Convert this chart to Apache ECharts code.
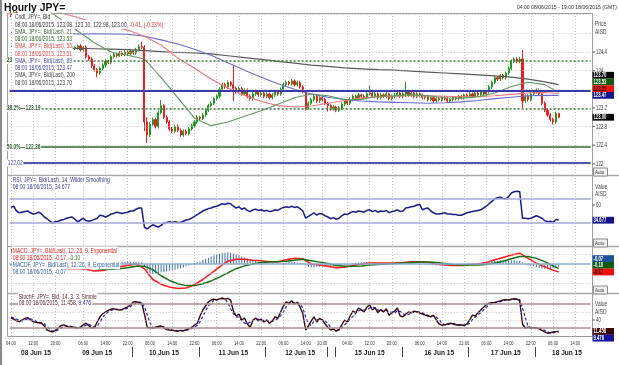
<!DOCTYPE html>
<html><head><meta charset="utf-8">
<script src="https://cdn.jsdelivr.net/npm/echarts@6.0.0/dist/echarts.min.js"></script>
<style>html,body{margin:0;padding:0;background:#fff;overflow:hidden}#c{width:619px;height:365px}</style>
</head><body><div id="c"></div>
<script>
// ---------- time axis ----------
const sessionDays = [['08/06',4,23],['09/06',0,23],['10/06',0,23],['11/06',0,23],['12/06',0,21],['14/06',21,23],['15/06',0,23],['16/06',0,23],['17/06',0,23],['18/06',0,19]];
const tickTimes = ['08/06 04:00','08/06 12:00','08/06 20:00','09/06 06:00','09/06 14:00','09/06 22:00','10/06 06:00','10/06 14:00','10/06 22:00','11/06 06:00','11/06 14:00','11/06 22:00','12/06 06:00','12/06 14:00','12/06 20:00','15/06 04:00','15/06 12:00','15/06 20:00','16/06 06:00','16/06 14:00','16/06 22:00','17/06 06:00','17/06 14:00','17/06 22:00','18/06 06:00','18/06 14:00'];
const dayLabelTimes = ['08/06 13:00','09/06 11:00','10/06 11:00','11/06 12:00','12/06 12:00','15/06 12:00','16/06 13:00','17/06 13:00','18/06 11:00'];
const dayLabels = ['08 Jun 15','09 Jun 15','10 Jun 15','11 Jun 15','12 Jun 15','15 Jun 15','16 Jun 15','17 Jun 15','18 Jun 15'];
const daySeparators = ['10/06 00:00','11/06 00:00','12/06 00:00','14/06 21:00','15/06 00:00','16/06 00:00','17/06 00:00','18/06 00:00'];

// ---------- price candles (hourly, 08/06 04:00 .. 18/06 08:00) ----------
const opens = [
125.22,125.20,125.25,125.15,125.18,125.10,124.95,124.80,124.85,124.70,
124.75,124.65,124.60,124.68,124.55,124.50,124.45,124.52,124.55,124.50,
124.48,124.50,124.52,124.48,124.50,124.53,124.45,124.50,124.30,124.25,
124.10,124.02,123.95,124.05,124.12,124.20,124.18,124.30,124.35,124.32,
124.38,124.35,124.40,124.36,124.42,124.38,124.45,124.52,124.50,122.90,
122.62,122.85,122.95,122.80,123.10,123.25,123.00,122.90,122.75,122.70,
122.80,122.72,122.62,122.70,122.65,122.75,122.82,122.90,123.00,122.98,
123.05,123.15,123.25,123.30,123.40,123.45,123.60,123.70,123.65,123.75,
123.70,123.62,123.55,123.62,123.50,123.58,123.45,123.40,123.50,123.55,
123.48,123.52,123.45,123.50,123.42,123.48,123.55,123.50,123.60,123.70,
123.75,123.72,123.78,123.70,123.75,123.65,123.55,123.20,123.30,123.38,
123.45,123.35,123.42,123.38,123.30,123.25,123.18,123.22,123.15,123.20,
123.28,123.35,123.30,123.38,123.45,123.40,123.48,123.45,123.42,123.50,
123.52,123.45,123.50,123.42,123.48,123.45,123.50,123.40,123.45,123.48,
123.52,123.45,123.50,123.55,123.48,123.52,123.45,123.50,123.48,123.42,
123.45,123.38,123.42,123.35,123.40,123.38,123.42,123.40,123.35,123.38,
123.42,123.40,123.45,123.42,123.48,123.45,123.50,123.45,123.52,123.48,
123.55,123.50,123.55,123.65,123.75,123.85,123.82,123.90,123.85,123.95,
124.05,124.20,124.25,124.20,124.25,123.35,123.45,123.38,123.50,123.55,
123.58,123.50,123.30,123.15,123.05,122.95,122.90,123.08];
const closes = [
125.20,125.25,125.15,125.18,125.10,124.95,124.80,124.85,124.70,124.75,
124.65,124.60,124.68,124.55,124.50,124.45,124.52,124.55,124.50,124.48,
124.50,124.52,124.48,124.50,124.53,124.45,124.50,124.30,124.25,124.10,
124.02,123.95,124.05,124.12,124.20,124.18,124.30,124.35,124.32,124.38,
124.35,124.40,124.36,124.42,124.38,124.45,124.52,124.50,122.90,122.62,
122.85,122.95,122.80,123.10,123.25,123.00,122.90,122.75,122.70,122.80,
122.72,122.62,122.70,122.65,122.75,122.82,122.90,123.00,122.98,123.05,
123.15,123.25,123.30,123.40,123.45,123.60,123.70,123.65,123.75,123.70,
123.62,123.55,123.62,123.50,123.58,123.45,123.40,123.50,123.55,123.48,
123.52,123.45,123.50,123.42,123.48,123.55,123.50,123.60,123.70,123.75,
123.72,123.78,123.70,123.75,123.65,123.55,123.20,123.30,123.38,123.45,
123.35,123.42,123.38,123.30,123.25,123.18,123.22,123.15,123.20,123.28,
123.35,123.30,123.38,123.45,123.40,123.48,123.45,123.42,123.50,123.52,
123.45,123.50,123.42,123.48,123.45,123.50,123.40,123.45,123.48,123.52,
123.45,123.50,123.55,123.48,123.52,123.45,123.50,123.48,123.42,123.45,
123.38,123.42,123.35,123.40,123.38,123.42,123.40,123.35,123.38,123.42,
123.40,123.45,123.42,123.48,123.45,123.50,123.45,123.52,123.48,123.55,
123.50,123.55,123.65,123.75,123.85,123.82,123.90,123.85,123.95,124.05,
124.20,124.25,124.20,124.25,123.35,123.45,123.38,123.50,123.55,123.58,
123.50,123.30,123.15,123.05,122.95,122.90,123.08,123.00];
const highs = [
125.28,125.30,125.28,125.22,125.22,125.14,124.99,124.90,124.90,124.79,
124.80,124.70,124.72,124.71,124.59,124.54,124.55,124.58,124.59,124.54,
124.54,124.55,124.56,124.53,124.56,124.57,124.53,124.54,124.34,124.29,
124.14,124.06,124.09,124.16,124.24,124.23,124.34,124.39,124.38,124.42,
124.42,124.44,124.43,124.46,124.45,124.49,124.56,124.62,124.55,123.00,
122.90,122.99,122.99,123.14,123.37,123.28,123.04,122.94,122.79,122.84,
122.84,122.76,122.74,122.74,122.79,122.86,122.94,123.04,123.03,123.09,
123.19,123.29,123.34,123.44,123.49,123.65,123.74,123.74,123.79,123.78,
124.12,123.66,123.66,123.65,123.62,123.62,123.49,123.54,123.59,123.58,
123.56,123.55,123.54,123.53,123.52,123.59,123.58,123.64,123.74,123.79,
123.78,123.82,123.81,123.79,123.78,123.69,123.58,123.34,123.42,123.49,
123.48,123.45,123.46,123.42,123.33,123.28,123.26,123.25,123.24,123.32,
123.39,123.38,123.42,123.49,123.48,123.52,123.51,123.49,123.54,123.68,
123.55,123.54,123.53,123.52,123.51,123.54,123.53,123.49,123.52,123.56,
123.55,123.54,123.76,123.58,123.56,123.55,123.54,123.53,123.51,123.48,
123.48,123.45,123.45,123.43,123.43,123.45,123.46,123.44,123.41,123.45,
123.45,123.48,123.48,123.51,123.51,123.54,123.53,123.55,123.55,123.58,
123.58,123.58,123.69,123.79,123.89,123.88,123.93,123.93,123.98,124.09,
124.24,124.29,124.29,124.29,124.44,123.49,123.49,123.54,123.58,123.62,
123.62,123.54,123.34,123.19,123.09,122.99,123.12,123.10];
const lows = [
125.15,125.16,125.11,125.11,125.06,124.90,124.76,124.76,124.66,124.66,
124.61,124.56,124.56,124.51,124.46,124.41,124.41,124.48,124.46,124.44,
124.44,124.46,124.44,124.44,124.46,124.41,124.41,124.26,124.21,124.06,
123.98,123.86,123.91,124.01,124.08,124.14,124.14,124.26,124.28,124.29,
124.31,124.31,124.32,124.32,124.34,124.34,124.41,124.46,122.70,122.45,
122.58,122.81,122.76,122.76,123.06,122.96,122.86,122.71,122.66,122.66,
122.68,122.58,122.58,122.61,122.61,122.71,122.78,122.86,122.94,122.94,
123.01,123.11,123.21,123.26,123.36,123.41,123.56,123.61,123.61,123.66,
123.35,123.51,123.51,123.46,123.46,123.41,123.36,123.36,123.46,123.44,
123.44,123.41,123.41,123.38,123.38,123.44,123.46,123.46,123.56,123.66,
123.68,123.68,123.66,123.66,123.61,123.51,123.14,123.16,123.26,123.34,
123.31,123.31,123.34,123.26,123.12,123.14,123.14,123.11,123.11,123.16,
123.24,123.26,123.26,123.34,123.36,123.36,123.41,123.38,123.38,123.46,
123.41,123.41,123.38,123.38,123.41,123.41,123.36,123.36,123.41,123.44,
123.41,123.41,123.44,123.44,123.44,123.41,123.41,123.44,123.38,123.38,
123.34,123.34,123.31,123.31,123.34,123.34,123.36,123.31,123.31,123.34,
123.36,123.36,123.38,123.38,123.41,123.41,123.41,123.41,123.44,123.44,
123.46,123.46,123.51,123.61,123.71,123.78,123.78,123.81,123.81,123.91,
124.01,124.16,124.16,124.16,123.20,123.31,123.34,123.34,123.46,123.51,
123.46,123.26,123.11,123.01,122.91,122.84,122.86,122.98];

// ---------- moving averages (sampled every 6 bars) ----------
const smaAt = [0,6,12,18,24,30,36,42,48,54,60,66,72,78,84,90,96,102,108,114,120,126,132,138,144,150,156,162,168,174,180,186,192,197];
const sma21 = [125.62,125.52,125.35,125.10,124.85,124.60,124.40,124.33,124.25,123.85,123.42,122.98,122.82,122.90,123.02,123.14,123.28,123.42,123.50,123.46,123.38,123.38,123.45,123.46,123.48,123.46,123.42,123.41,123.44,123.52,123.66,123.75,123.70,123.53];
const sma55 = [125.45,125.40,125.33,125.24,125.14,125.03,124.95,124.87,124.74,124.55,124.27,124.05,123.82,123.63,123.47,123.34,123.25,123.22,123.24,123.30,123.36,123.41,123.44,123.45,123.46,123.46,123.45,123.44,123.44,123.46,123.49,123.52,123.53,123.51];
const sma89 = [124.82,124.81,124.80,124.80,124.79,124.79,124.79,124.78,124.74,124.66,124.57,124.46,124.33,124.17,124.01,123.86,123.72,123.60,123.50,123.43,123.38,123.35,123.33,123.32,123.31,123.30,123.31,123.33,123.36,123.40,123.43,123.46,123.47,123.47];
const sma200 = [124.52,124.51,124.50,124.49,124.48,124.47,124.46,124.45,124.43,124.41,124.39,124.38,124.36,124.32,124.28,124.24,124.20,124.16,124.12,124.09,124.06,124.04,124.02,124.01,123.99,123.97,123.95,123.93,123.91,123.89,123.86,123.82,123.76,123.70];

// ---------- RSI(14) ----------
const rsi = [56,58,50,47,48,49,50,47,45,46,48,45,40,37,33,30,32,33,35,36,
38,39,40,36,32,35,38,34,33,34,36,38,43,42,40,42,45,46,48,47,46,47,48,50,
50,53,55,55,
23,20,24,27,25,23,26,30,31,32,31,32,31,31,33,35,36,38,41,44,
47,50,52,54,55,57,58,60,62,61,63,62,58,55,57,53,55,51,49,52,53,51,52,50,
51,49,50,52,51,54,56,57,56,58,56,57,54,50,38,41,44,47,43,46,45,42,
40,37,39,
36,38,42,45,44,47,49,48,50,49,48,51,52,49,51,48,50,49,51,47,49,50,52,49,
50,55,56,57,58,60,61,52,54,55,50,47,45,45,46,47,45,45,44,44,43,43,45,47,
48,49,50,51,52,55,58,62,66,70,72,73,71,70,74,80,82,83,82,38,38,37,38,40,
42,40,38,34,32,33,31,36,34.677];

// ---------- MACD(12,26,9) (lines sampled every 3 bars) ----------
const macdAt = [0,3,6,9,12,15,18,21,24,27,30,33,36,39,42,45,48,51,54,57,60,63,66,69,72,75,78,81,84,87,90,93,96,99,102,105,108,111,114,117,120,123,126,129,132,135,138,141,144,147,150,153,156,159,162,165,168,171,174,177,180,183,186,189,192,195,197];
const macdLine = [0.26,0.22,0.17,0.10,0.03,-0.04,-0.08,-0.10,-0.10,-0.11,-0.15,-0.14,-0.10,-0.06,-0.03,0.00,-0.10,-0.33,-0.43,-0.49,-0.52,-0.51,-0.44,-0.33,-0.20,-0.06,0.06,0.10,0.10,0.08,0.07,0.05,0.05,0.09,0.12,0.11,0.00,-0.02,-0.05,-0.08,-0.07,-0.03,0.00,0.02,0.02,0.02,0.02,0.03,0.05,0.05,0.03,0.00,-0.02,-0.03,-0.03,-0.01,0.00,0.03,0.09,0.14,0.19,0.23,0.12,0.02,-0.06,-0.13,-0.17];
const macdSignal = [0.30,0.28,0.25,0.21,0.16,0.10,0.05,0.01,-0.03,-0.06,-0.09,-0.11,-0.11,-0.10,-0.08,-0.05,-0.05,-0.12,-0.25,-0.35,-0.42,-0.46,-0.46,-0.42,-0.36,-0.28,-0.19,-0.10,-0.04,0.00,0.03,0.04,0.05,0.06,0.08,0.10,0.07,0.04,0.01,-0.03,-0.05,-0.05,-0.04,-0.02,-0.01,0.00,0.01,0.02,0.03,0.04,0.04,0.03,0.01,-0.01,-0.02,-0.02,-0.02,-0.01,0.02,0.06,0.11,0.16,0.16,0.12,0.05,-0.04,-0.10];
const macdHist = [-0.04,-0.05,-0.05,-0.06,-0.07,-0.07,-0.08,-0.09,-0.10,-0.11,-0.12,-0.12,-0.13,-0.13,-0.14,-0.14,-0.14,-0.13,-0.13,-0.12,
-0.12,-0.11,-0.10,-0.09,-0.07,-0.06,-0.06,-0.05,-0.05,-0.06,-0.06,-0.05,-0.04,-0.03,-0.02,-0.01,0.01,0.02,0.03,0.04,0.04,0.05,0.05,0.05,0.05,0.05,0.05,0.04,
-0.05,-0.14,-0.19,-0.21,-0.20,-0.19,-0.18,-0.17,-0.16,-0.14,-0.13,-0.12,-0.10,-0.09,-0.07,-0.05,-0.03,-0.01,0.02,0.04,
0.05,0.09,0.11,0.13,0.16,0.18,0.20,0.22,0.23,0.24,0.25,0.24,0.22,0.20,0.18,0.16,0.14,0.12,0.10,0.08,0.07,0.05,0.04,0.03,
0.02,0.01,0.01,0.00,0.00,0.01,0.02,0.03,0.04,0.04,0.04,0.03,0.02,0.01,-0.03,-0.06,-0.07,-0.07,-0.06,-0.06,-0.06,-0.06,
-0.06,-0.06,-0.05,
-0.05,-0.04,-0.03,-0.02,-0.01,0.00,0.02,0.03,0.03,0.04,0.04,0.04,0.04,0.03,0.03,0.03,0.02,0.02,0.02,0.01,0.01,0.01,0.01,0.01,
0.01,0.02,0.02,0.02,0.02,0.01,0.01,0.00,-0.01,-0.01,-0.02,-0.02,-0.03,-0.03,-0.03,-0.03,-0.03,-0.02,-0.02,-0.02,-0.01,-0.01,-0.01,0.00,
0.01,0.01,0.02,0.02,0.02,0.03,0.04,0.05,0.06,0.07,0.07,0.08,0.08,0.08,0.08,0.08,0.08,0.07,0.07,0.03,-0.01,-0.03,-0.04,-0.05,
-0.07,-0.08,-0.09,-0.10,-0.10,-0.10,-0.09,-0.08,-0.07];

// ---------- Stochastic (14,3,3) ----------
const stochK = [45,42,38,36,40,44,46,40,36,34,33,32,25,15,12,10,14,20,26,28,
24,22,23,21,20,22,28,32,26,20,21,35,48,56,60,64,67,68,66,65,66,70,73,78,85,86,83,82,
55,22,21,20,22,24,25,20,16,15,14,13,12,14,13,16,18,22,27,32,
50,65,75,85,90,92,90,93,95,92,94,90,62,50,55,40,45,30,22,38,45,38,42,35,
40,32,38,48,45,60,75,85,82,88,80,84,72,55,15,25,38,48,35,44,40,30,
22,15,18,
12,16,28,40,35,50,62,58,70,66,60,72,78,65,70,58,66,60,68,52,58,62,70,50,
48,55,60,58,62,60,58,55,52,50,48,52,40,30,27,28,30,32,30,28,27,28,26,30,
40,52,50,58,65,72,78,82,83,84,86,88,90,91,90,92,93,92,88,30,20,22,20,21,
20,18,14,10,7,8,10,11,11.458];
const stochD = [48,45,42,39,38,40,43,43,41,37,34,33,30,24,17,12,12,15,20,25,
26,25,23,22,21,21,23,27,29,26,22,25,35,46,55,60,64,66,67,66,66,67,70,74,79,83,85,84,
73,53,33,21,21,22,24,23,20,17,15,14,13,13,13,14,16,19,22,27,
36,49,63,75,83,89,91,92,93,93,82,68,56,48,47,38,32,30,35,40,42,42,38,39,
39,36,37,39,44,51,60,73,81,85,83,84,79,70,47,32,26,37,40,42,40,38,
31,22,18,
15,15,19,28,34,42,49,57,63,65,65,66,70,72,71,64,65,61,65,60,59,57,63,61,
56,51,54,58,60,61,60,58,55,52,50,50,47,41,32,28,28,30,31,30,28,28,27,28,
32,41,47,53,58,65,72,77,81,83,84,86,88,90,90,91,92,92,91,70,46,24,21,21,
20,20,17,14,10,8,8,10,9.476];

// ---------- levels & ticks ----------
const fibLevels = [124.22, 123.19, 122.36];
const fibNames = ['23.6%', '38.2%', '50.0%'];
const blueLevels = [123.56, 122.02];
const priceTicks = [122, 122.4, 122.8, 123.2, 123.6, 124, 124.4];
const priceGridLines = [122, 122.4, 122.8, 123.2, 123.6, 124, 124.4, 124.8, 125.2];
const rsiBands = [70, 30];
const rsiTicks = [60];
const macdGridLines = [0.2, -0.2, -0.4];
const stochBands = [80, 20];
const stochGridLines = [60, 40];
const stochTicks = [40];

// ---------- build ----------
const categories = [];
sessionDays.forEach(([d, a, b]) => { for (let h = a; h <= b; h++) categories.push(d + ' ' + String(h).padStart(2, '0') + ':00'); });
const FONT = '"Liberation Sans", Arial, sans-serif';
const tickSet = new Set(tickTimes);
const L = 9.6, R = 28.4;
const grids = [{top: 13, height: 162}, {top: 175, height: 71}, {top: 246, height: 47}, {top: 293, height: 43}]
  .map(g => Object.assign({left: L, right: R, show: false}, g));
const yRanges = [[121.761, 125.237], [-8.33, 110], [-0.617, 0.383], [0, 107.5]];

const xAxis = grids.map((g, i) => ({
  type: 'category', gridIndex: i, data: categories, boundaryGap: true,
  axisLine: {show: false}, axisTick: {show: false}, axisLabel: {show: false},
  splitLine: {show: true, alignWithLabel: true, interval: (idx, val) => tickSet.has(val),
    lineStyle: {color: '#c2c2c2', type: [1, 2], width: 1}}
}));
const yAxis = yRanges.map((r, i) => ({
  type: 'value', gridIndex: i, position: 'right', min: r[0], max: r[1], scale: true,
  axisLine: {show: false}, axisTick: {show: false}, axisLabel: {show: false}, splitLine: {show: false}
}));
const ml = (items) => ({silent: true, symbol: ['none', 'none'], label: {show: false}, animation: false, data: items});
const dotted = v => ({yAxis: v, lineStyle: {color: '#c6c6c6', type: [1, 2], width: 1}});
const pairs = (at, vals) => at.map((k, j) => [k, vals[j]]);
const lineS = (name, data, gi, color, w, extra) => Object.assign({
  name, type: 'line', xAxisIndex: gi, yAxisIndex: gi, data, symbol: 'none', silent: true,
  lineStyle: {color, width: w}, animation: false
}, extra || {});

const series = [
  lineS('SMA200', pairs(smaAt, sma200), 0, '#5a5a5a', 1.2, {markLine: ml(priceGridLines.map(dotted))}),
  lineS('SMA89', pairs(smaAt, sma89), 0, '#6a6acc', 1.1),
  lineS('SMA55', pairs(smaAt, sma55), 0, '#f27878', 1.1),
  lineS('SMA21', pairs(smaAt, sma21), 0, '#5a9a5a', 1.1),
  {
    name: 'Cndl', type: 'candlestick', xAxisIndex: 0, yAxisIndex: 0, silent: true, animation: false,
    barWidth: 1.6,
    data: closes.map((c, i) => [opens[i], c, lows[i], highs[i]]),
    itemStyle: {color: '#1f9a1f', color0: '#ee1c1c', borderColor: '#1f9a1f', borderColor0: '#ee1c1c', borderWidth: 1},
    markLine: ml([
      {yAxis: fibLevels[0], lineStyle: {color: '#3f7a3f', type: [2, 2], width: 1.5}},
      {yAxis: fibLevels[1], lineStyle: {color: '#3f7a3f', type: [2, 2], width: 1.5}},
      {yAxis: fibLevels[2], lineStyle: {color: '#2f6a2f', type: 'solid', width: 1.5}},
      {yAxis: blueLevels[0], lineStyle: {color: '#3a3aa8', type: 'solid', width: 2}},
      {yAxis: blueLevels[1], lineStyle: {color: '#5252b2', type: 'solid', width: 2}}
    ])
  },
  lineS('RSI', rsi, 1, '#1c1c8a', 1.5, {markLine: ml(rsiBands.map(v => ({yAxis: v, lineStyle: {color: '#a4a8d6', width: 1.5, type: 'solid'}})))}),
  {
    name: 'MACDF', type: 'bar', xAxisIndex: 2, yAxisIndex: 2, data: macdHist, barWidth: 1, silent: true, animation: false,
    itemStyle: {color: '#3d6fb0'},
    markLine: ml(macdGridLines.map(dotted).concat([{yAxis: 0, lineStyle: {color: '#8faccc', width: 1.5, type: 'solid'}}]))
  },
  lineS('MACD', pairs(macdAt, macdLine), 2, '#ff1a1a', 1.5),
  lineS('Signal', pairs(macdAt, macdSignal), 2, '#167016', 1.5),
  lineS('StochD', stochD, 3, '#2424d0', 1.2, {lineStyle: {color: '#2424d0', width: 1.2, type: [3, 2]},
    markLine: ml(stochGridLines.map(dotted).concat(stochBands.map(v => ({yAxis: v, lineStyle: {color: '#a89090', width: 1.5, type: 'solid'}}))))}),
  lineS('StochK', stochK, 3, '#3a0a0a', 1.4)
];

const chart = echarts.init(document.getElementById('c'), null, {renderer: 'canvas', width: 619, height: 365});
chart.setOption({animation: false, backgroundColor: '#fff', textStyle: {fontFamily: FONT}, grid: grids, xAxis, yAxis, series});

// ---------- overlay texts & frame ----------
const G = [];
const PX = (g, i, v) => chart.convertToPixel({gridIndex: g}, [i, v]);
const Yp = (g, v) => PX(g, 0, v)[1];
const Xp = i => PX(3, i, 0)[0];
const band = Xp(1) - Xp(0);
function ln(x1, y1, x2, y2, stroke, w, z) { G.push({type: 'line', silent: true, z: z || 60, shape: {x1, y1, x2, y2}, style: {stroke, lineWidth: w || 1}}); }
function rc(x, y, w, h, fill, stroke, z) { G.push({type: 'rect', silent: true, z: z || 110, shape: {x, y, width: w, height: h}, style: {fill, stroke: stroke || null, lineWidth: stroke ? 1 : 0}}); }
function tx(x, y, segs, o) {
  o = o || {};
  const fs = o.fs || 7, fw = o.fw || 'normal', sx = o.sx || 0.7;
  const rich = {}; let s = '';
  segs.forEach(([t, c], k) => { rich['r' + k] = {fill: c, color: c, fontSize: fs, fontFamily: FONT, fontWeight: fw}; s += '{r' + k + '|' + t + '}'; });
  G.push({type: 'text', silent: true, z: o.z || 120, x, y, scaleX: sx,
    style: {text: s, rich, fontSize: fs, fontFamily: FONT, fontWeight: fw, fill: segs[0][1],
      align: o.align || 'left', verticalAlign: 'middle', backgroundColor: o.bg || null, padding: o.pad || 0}});
}
// frame
const gx0 = 7.5, gx1 = 592.5;
ln(1, 0, 1, 365, '#8a8a8a', 2);
ln(gx0, 13, gx0, 336, '#a0a0a0', 1);
ln(gx1, 13, gx1, 336, '#a0a0a0', 1);
ln(gx0, 13.5, gx1, 13.5, '#a0a0a0', 1);
[175.5, 246.5, 293.5].forEach(y => ln(gx0, y, 619, y, '#a8a8a8', 1.5));
ln(gx0, 336.5, gx1, 336.5, '#9a9a9a', 1);

// title & range
tx(4, 7.5, [['Hourly JPY=', '#111']], {fs: 11.5, fw: 'bold', sx: 0.9});
tx(617, 7.5, [['04:00 08/06/2015 - 19:00 18/06/2015 (GMT)', '#333']], {fs: 6, sx: 0.85, align: 'right'});

// fib / level labels
fibLevels.forEach((v, k) => tx(6, Yp(0, v), [[fibNames[k] + '\u2014' + v.toFixed(2), '#2d5d2d']], {fs: 7, fw: 'bold', sx: 0.7, bg: '#fff', pad: [0, 1], z: 115}));
tx(7, Yp(0, blueLevels[1]), [[blueLevels[1].toFixed(2), '#4646a8']], {fs: 7, sx: 0.7, bg: '#fff', pad: [0, 1], z: 115});

// main legend
const mainLegend = [
  [['Cndl, JPY=, Bid', '#333']],
  [['08:00 18/06/2015, 123.08, 123.10, 122.98, 123.00, ', '#333'], ['-0.41, (-0.33%)', '#e83030']],
  [['SMA, JPY=, Bid(Last), 21', '#3d5a3d']],
  [['08:00 18/06/2015, ' + sma21[sma21.length - 1].toFixed(2), '#2a6a2a']],
  [['SMA, JPY=, Bid(Last), 55', '#e04a4a']],
  [['08:00 18/06/2015, ' + sma55[sma55.length - 1].toFixed(2), '#e04a4a']],
  [['SMA, JPY=, Bid(Last), 89', '#4848b0']],
  [['08:00 18/06/2015, ' + sma89[sma89.length - 1].toFixed(2), '#4848b0']],
  [['SMA, JPY=, Bid(Last), 200', '#444']],
  [['08:00 18/06/2015, ' + sma200[sma200.length - 1].toFixed(2), '#444']]
];
mainLegend.forEach((segs, k) => tx(12, 17.3 + k * 7.27, segs, {bg: '#fff', pad: [1, 1, 1, 4], fs: 7.2}));
// RSI legend
tx(12, 180.5, [['RSI, JPY=, Bid(Last), 14, Wilder Smoothing', '#3a3a9a']], {bg: '#fff', pad: [1, 1], fs: 7.2});
tx(12, 187, [['08:00 18/06/2015, ' + rsi[rsi.length - 1].toFixed(3), '#3a3a9a']], {bg: '#fff', pad: [1, 1], fs: 7.2});
// MACD legend
tx(12, 251, [['MACD, JPY=, Bid(Last), 12, 26, 9, Exponential', '#e82020']], {bg: '#fff', pad: [1, 1], fs: 7.2});
tx(12, 257.8, [['08:00 18/06/2015, ' + macdLine[macdLine.length - 1].toFixed(2) + ', ', '#e82020'], [macdSignal[macdSignal.length - 1].toFixed(2), '#1a7a1a']], {bg: '#fff', pad: [1, 1], fs: 7.2});
tx(12, 264.8, [['MACDF, JPY=, Bid(Last), 12, 26, 9, Exponential', '#3060a8']], {bg: '#fff', pad: [1, 1], fs: 7.2});
tx(12, 271.6, [['08:00 18/06/2015, ' + macdHist[macdHist.length - 1].toFixed(2), '#3060a8']], {bg: '#fff', pad: [1, 1], fs: 7.2});
// Stoch legend
tx(18, 296.8, [['StochF, JPY=, Bid, 14, 3, 3, Simple', '#5a2a2a']], {bg: '#fff', pad: [1, 1], fs: 7.2});
tx(18, 303.4, [['08:00 18/06/2015, ' + stochK[stochK.length - 1].toFixed(3) + ', ', '#5a2a2a'], [stochD[stochD.length - 1].toFixed(3), '#2a2ab0']], {bg: '#fff', pad: [1, 1], fs: 7.2});

// right axis labels
function tick(g, v, label) { const y = Yp(g, v); ln(592.5, y, 595, y, '#555', 1, 100); tx(596, y, [[label, '#333']], {fs: 7, sx: 0.62}); }
priceTicks.forEach(v => tick(0, v, String(+v.toFixed(1))));
rsiTicks.forEach(v => tick(1, v, String(v)));
stochTicks.forEach(v => tick(3, v, String(v)));
tx(595, 24.5, [['Price', '#444']], {fs: 7, sx: 0.7});
tx(595, 31.8, [['AISD', '#444']], {fs: 7, sx: 0.7});
tx(595, 186.8, [['Value', '#444']], {fs: 7, sx: 0.7});
tx(595, 194.5, [['AISD', '#444']], {fs: 7, sx: 0.7});
tx(595, 304.5, [['Value', '#444']], {fs: 7, sx: 0.7});
tx(595, 312.3, [['AISD', '#444']], {fs: 7, sx: 0.7});
[[168, 176], [239, 247], [286, 294]].forEach(([a, b]) => { rc(593.5, a, 14, b - a, '#f2f2f2', '#8a8a8a', 110); tx(595, (a + b) / 2, [['Auto', '#333']], {fs: 6, sx: 0.75, z: 121}); });

// value boxes
function boxes(g, items, dir) {
  items.forEach(it => it.y = Yp(g, it.v));
  const arr = items.slice().sort((a, b) => a.y - b.y);
  if (dir === 'up') { for (let i = arr.length - 2; i >= 0; i--) arr[i].y = Math.min(arr[i].y, arr[i + 1].y - 6.7); }
  else { for (let i = 1; i < arr.length; i++) arr[i].y = Math.max(arr[i].y, arr[i - 1].y + 6.7); }
  arr.forEach(it => { rc(592.5, it.y - 3.4, 21.5, 6.8, it.bg, null, 125); tx(593.5, it.y, [[it.label, it.fg]], {fs: 7, fw: 'bold', sx: 0.6, z: 126}); });
}
const lastOf = a => a[a.length - 1];
boxes(0, [
  {v: lastOf(sma200), label: lastOf(sma200).toFixed(2), bg: '#050505', fg: '#fff'},
  {v: lastOf(sma21), label: lastOf(sma21).toFixed(2), bg: '#0f5a0f', fg: '#fff'},
  {v: lastOf(sma55), label: lastOf(sma55).toFixed(2), bg: '#f01010', fg: '#111'},
  {v: lastOf(sma89), label: lastOf(sma89).toFixed(2), bg: '#14148c', fg: '#fff'}
], 'up');
boxes(0, [{v: lastOf(closes), label: lastOf(closes).toFixed(2), bg: '#050505', fg: '#fff'}], 'up');
boxes(1, [{v: lastOf(rsi), label: lastOf(rsi).toFixed(3), bg: '#14148c', fg: '#fff'}], 'up');
boxes(2, [
  {v: lastOf(macdHist), label: lastOf(macdHist).toFixed(2), bg: '#1f5596', fg: '#fff'},
  {v: lastOf(macdSignal), label: lastOf(macdSignal).toFixed(2), bg: '#0f5a0f', fg: '#fff'},
  {v: lastOf(macdLine), label: lastOf(macdLine).toFixed(2), bg: '#f01010', fg: '#111'}
], 'up');
boxes(3, [
  {v: lastOf(stochK), label: lastOf(stochK).toFixed(3), bg: '#3a0606', fg: '#fff'},
  {v: lastOf(stochD), label: lastOf(stochD).toFixed(3), bg: '#1414a0', fg: '#fff'}
], 'down');

// x axis labels
categories.forEach((c, i) => {
  if (tickSet.has(c)) tx(Xp(i), 343.3, [[c.slice(6), '#333']], {fs: 5, sx: 0.8, align: 'center'});
  const d = dayLabelTimes.indexOf(c);
  if (d >= 0) tx(Xp(i), 352.3, [[dayLabels[d], '#222']], {fs: 8, fw: 'bold', sx: 0.82, align: 'center'});
  if (daySeparators.indexOf(c) >= 0) { const x = Math.round(Xp(i) - band / 2) + 0.5; ln(x, 347, x, 357, '#444', 1, 100); }
});

chart.setOption({graphic: {elements: G}});
</script></body></html>
